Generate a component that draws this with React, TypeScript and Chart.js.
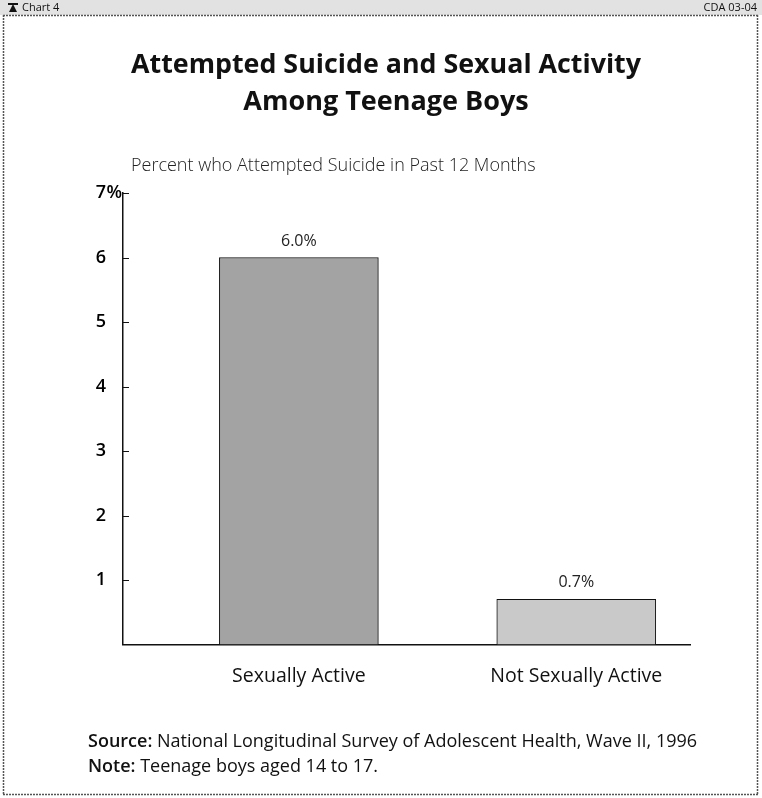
import React, { useEffect, useRef } from "react";
import { Chart, registerables } from "chart.js";

Chart.register(...registerables);

const categories = ["Sexually Active", "Not Sexually Active"];
const values = [6.0, 0.7];
const valueLabels = ["6.0%", "0.7%"];
const yTickValues = [1, 2, 3, 4, 5, 6, 7];
const titleLines = ["Attempted Suicide and Sexual Activity", "Among Teenage Boys"];
const subtitleText = "Percent who Attempted Suicide in Past 12 Months";
const sourceLabel = "Source:";
const sourceText = "National Longitudinal Survey of Adolescent Health, Wave II, 1996";
const noteLabel = "Note:";
const noteText = "Teenage boys aged 14 to 17.";
const headerLeft = "Chart 4";
const headerRight = "CDA 03-04";

const FONT = "'Open Sans', Lato, sans-serif";

const decorPlugin = {
  id: "decor",
  beforeDraw(chart: any) {
    const ctx = chart.ctx as CanvasRenderingContext2D;
    const W = chart.width;
    const H = chart.height;
    ctx.save();
    ctx.fillStyle = "#ffffff";
    ctx.fillRect(0, 0, W, H);
    // header band
    ctx.fillStyle = "#e2e2e2";
    ctx.fillRect(0, 0, W, 15);
    ctx.fillStyle = "#111";
    ctx.font = `11px ${FONT}`;
    ctx.textBaseline = "alphabetic";
    ctx.textAlign = "left";
    ctx.fillText(headerLeft, 22, 11);
    ctx.textAlign = "right";
    ctx.fillText(headerRight, W - 5, 11);
    // small icon
    ctx.fillRect(8, 3, 10, 2);
    ctx.beginPath();
    ctx.moveTo(13, 4);
    ctx.lineTo(9, 12);
    ctx.lineTo(17, 12);
    ctx.closePath();
    ctx.fill();
    // frame
    ctx.strokeStyle = "#555";
    ctx.lineWidth = 1.5;
    ctx.setLineDash([2, 1]);
    ctx.beginPath();
    ctx.moveTo(3, 15.5);
    ctx.lineTo(W - 4, 15.5);
    ctx.moveTo(3.5, 15);
    ctx.lineTo(3.5, H - 3);
    ctx.moveTo(W - 4.5, 15);
    ctx.lineTo(W - 4.5, H - 3);
    ctx.moveTo(3, H - 3.5);
    ctx.lineTo(W - 4, H - 3.5);
    ctx.stroke();
    ctx.setLineDash([]);
    // title
    ctx.fillStyle = "#111";
    ctx.textAlign = "center";
    ctx.font = `bold 27px ${FONT}`;
    ctx.fillText(titleLines[0], 386, 73, 510);
    ctx.fillText(titleLines[1], 386, 110, 510);
    // subtitle
    ctx.textAlign = "left";
    ctx.font = `300 18px ${FONT}`;
    ctx.fillStyle = "#222";
    ctx.fillText(subtitleText, 131, 171);
    // source & note
    ctx.fillStyle = "#111";
    ctx.font = `600 18px ${FONT}`;
    ctx.fillText(sourceLabel, 88, 747);
    let w = ctx.measureText(sourceLabel + " ").width;
    ctx.font = `18px ${FONT}`;
    ctx.fillText(sourceText, 88 + w, 747);
    ctx.font = `600 18px ${FONT}`;
    ctx.fillText(noteLabel, 88, 772);
    w = ctx.measureText(noteLabel + " ").width;
    ctx.font = `18px ${FONT}`;
    ctx.fillText(noteText, 88 + w, 772);
    ctx.restore();
  },
  afterDraw(chart: any) {
    const ctx = chart.ctx as CanvasRenderingContext2D;
    const y = chart.scales.y;
    const x = chart.scales.x;
    ctx.save();
    // inside tick marks
    ctx.strokeStyle = "#111";
    ctx.lineWidth = 1;
    ctx.beginPath();
    yTickValues.forEach((v) => {
      const py = Math.round(y.getPixelForValue(v)) + 0.5;
      ctx.moveTo(x.left, py);
      ctx.lineTo(x.left + 6, py);
    });
    ctx.stroke();
    // percent sign after top tick label
    const topVal = yTickValues[yTickValues.length - 1];
    ctx.fillStyle = "#000";
    ctx.font = `600 18px ${FONT}`;
    ctx.textAlign = "left";
    ctx.textBaseline = "middle";
    ctx.fillText("%", y.right - 17 + 0.5, y.getPixelForValue(topVal));
    // value labels
    const meta = chart.getDatasetMeta(0);
    ctx.font = `16px ${FONT}`;
    ctx.textAlign = "center";
    ctx.textBaseline = "alphabetic";
    ctx.fillStyle = "#222";
    meta.data.forEach((bar: any, i: number) => {
      ctx.fillText(valueLabels[i], bar.x, bar.y - 12);
    });
    ctx.restore();
  },
};

export default function App() {
  const ref = useRef<HTMLCanvasElement | null>(null);
  useEffect(() => {
    if (!ref.current) return;
    const chart = new Chart(ref.current, {
      type: "bar",
      data: {
        datasets: [
          {
            data: categories.map((c, i) => ({ x: i + 1, y: values[i] })) as any,
            backgroundColor: ["#a3a3a3", "#c9c9c9"],
            borderColor: "#111",
            borderWidth: 1,
            barThickness: 159,
          },
        ],
      },
      options: {
        responsive: false,
        animation: false,
        devicePixelRatio: 1,
        layout: { padding: { left: 83, right: 72, top: 193, bottom: 93.5 } },
        plugins: {
          legend: { display: false },
          tooltip: { enabled: false },
          title: { display: false },
        },
        scales: {
          x: {
            type: "linear",
            offset: false,
            bounds: "data",
            min: 0.366,
            max: 2.41,
            afterBuildTicks: (s: any) => {
              s.ticks = categories.map((_, i) => ({ value: i + 1 }));
            },
            afterFit: (s: any) => {
              s.height = 60;
            },
            grid: { display: false, drawTicks: false, offset: false },
            border: { display: true, color: "#111", width: 1.5 },
            ticks: {
              autoSkip: false,
              maxRotation: 0,
              padding: 20,
              color: "#111",
              font: { family: FONT, size: 19.5 },
              callback: (v: any) => categories[Math.round(Number(v)) - 1] ?? "",
            },
          },
          y: {
            min: 0,
            max: 7,
            afterFit: (s: any) => {
              s.width = 40;
            },
            grid: { display: false, drawTicks: false },
            border: { display: true, color: "#111", width: 1.5 },
            ticks: {
              stepSize: 1,
              padding: 17,
              color: "#000",
              font: { family: FONT, size: 18, weight: 600 as any },
              callback: (v: any) => (Number(v) === 0 ? "" : String(v)),
            },
          },
        },
      },
      plugins: [decorPlugin],
    });
    return () => chart.destroy();
  }, []);
  return (
    <div style={{ position: "fixed", left: 0, top: 0, width: 762, height: 798 }}>
      <canvas ref={ref} width={762} height={798} style={{ width: 762, height: 798, display: "block" }} />
    </div>
  );
}
